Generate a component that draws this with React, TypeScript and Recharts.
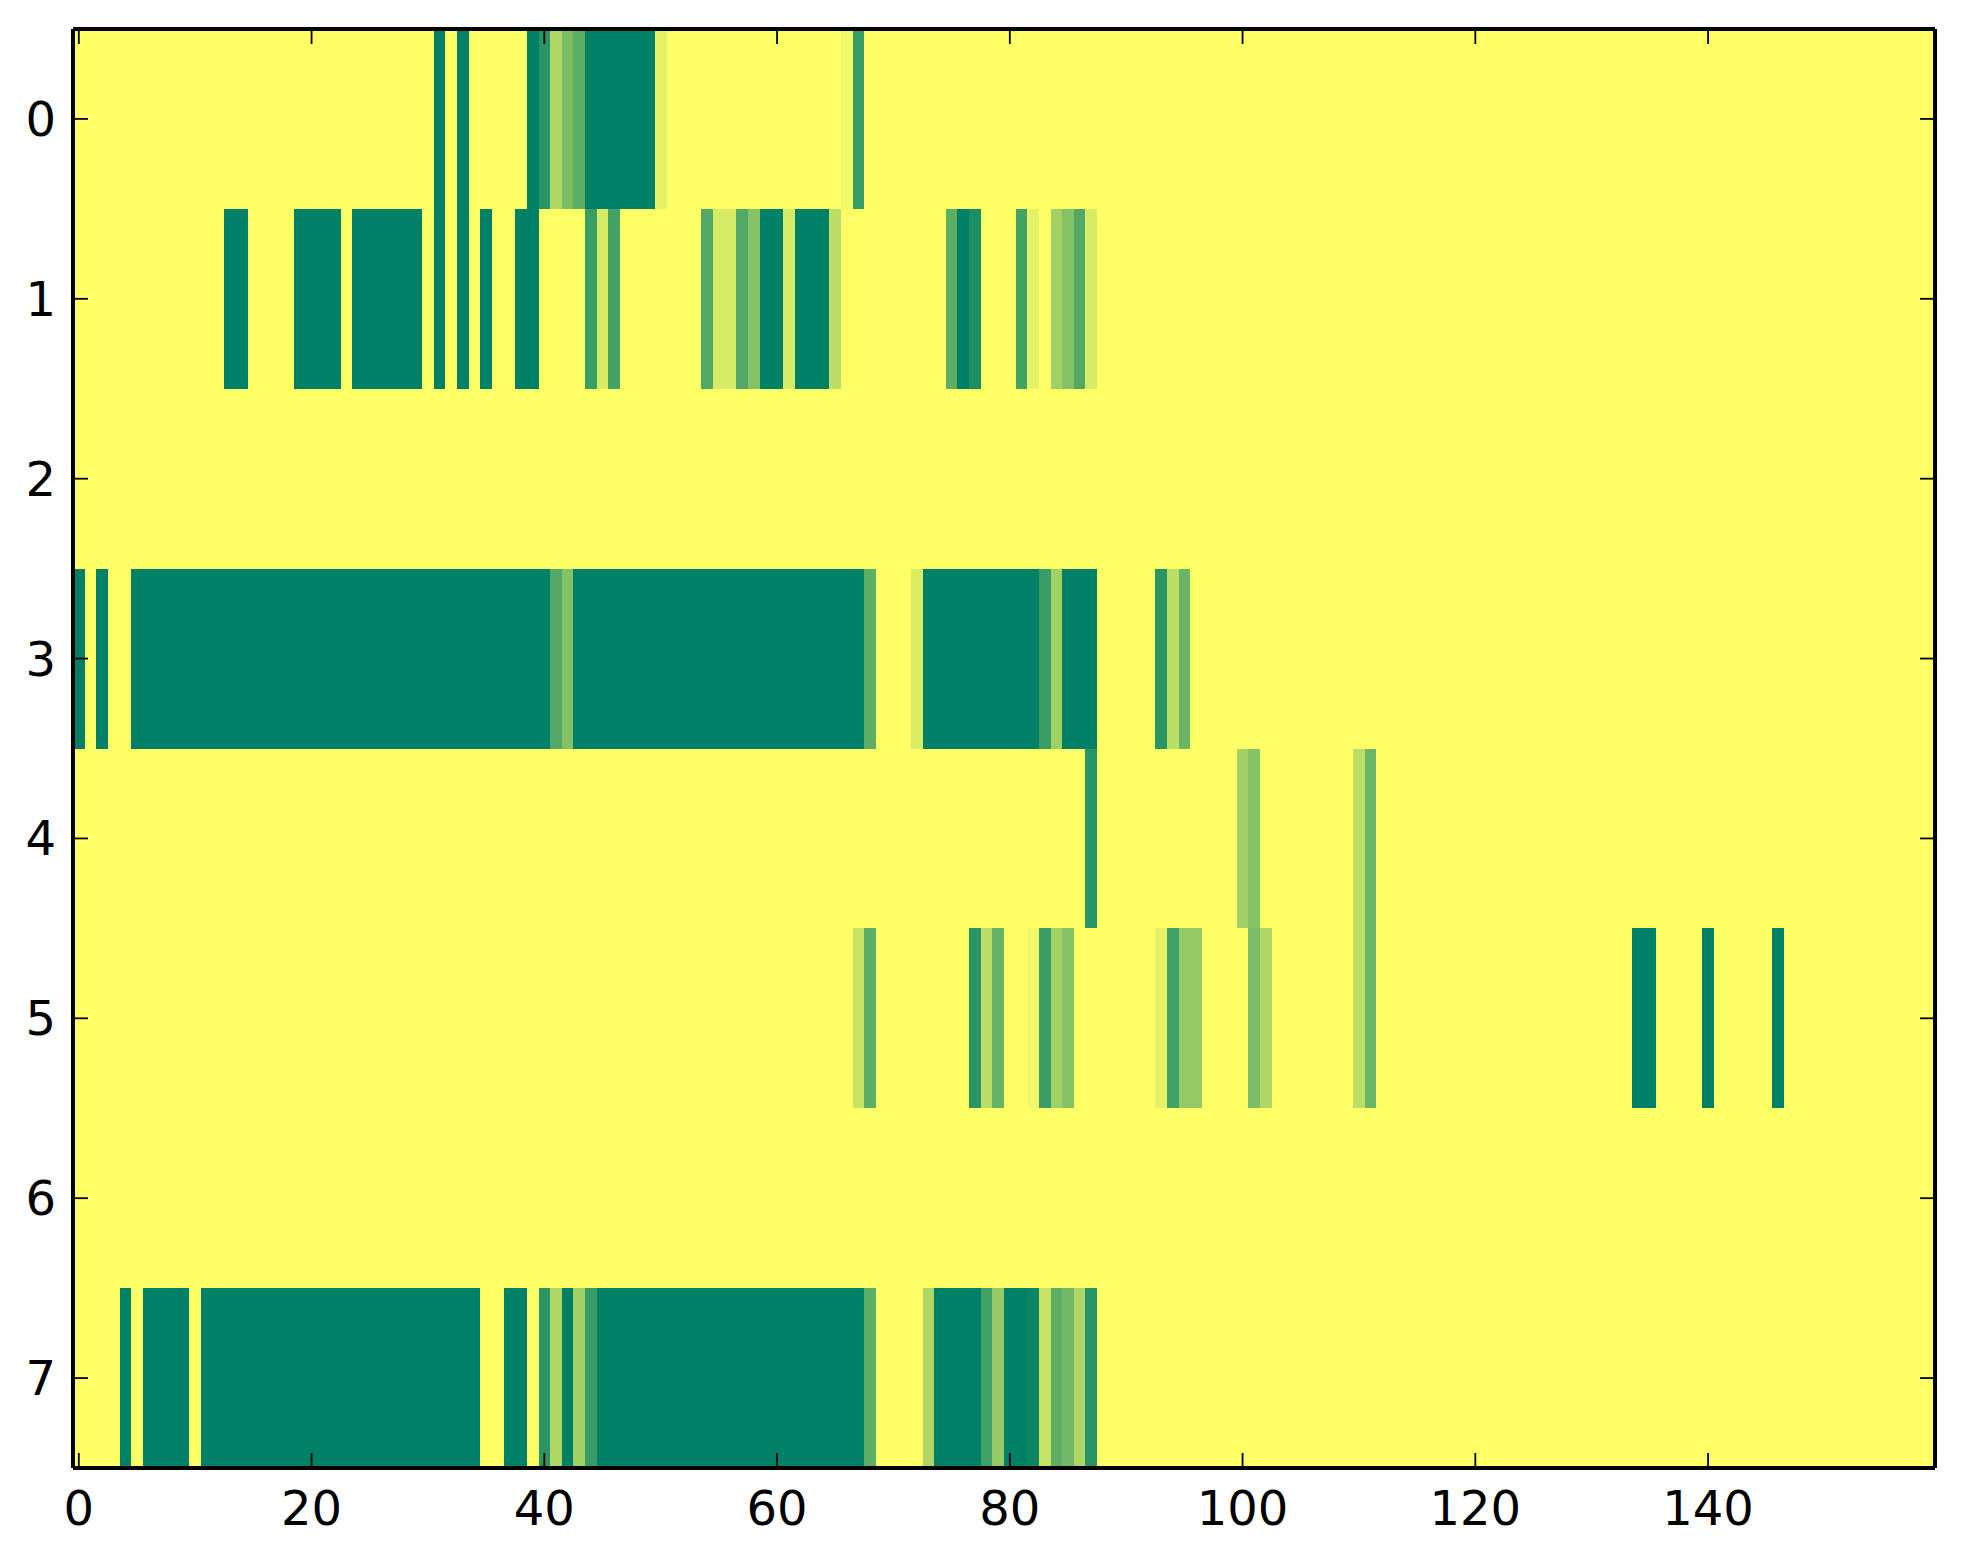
import React from 'react';
import { ComposedChart, XAxis, YAxis, ReferenceArea, Scatter } from 'recharts';

// Heat-map values, sparse per row: [column, value]; every other column is 0.
const row0: [number, number][] = [
  [31, 1], [33, 1], [39, 1], [40, 0.84], [41, 0.31], [42, 0.52], [43, 0.63],
  [44, 1], [45, 1], [46, 1], [47, 1], [48, 1], [49, 1], [50, 0.1], [66, 0.05], [67, 0.78],
];
const row1: [number, number][] = [
  [13, 1], [14, 1], [19, 1], [20, 1], [21, 1], [22, 1], [24, 1], [25, 1], [26, 1], [27, 1],
  [28, 1], [29, 1], [31, 1], [33, 1], [35, 1], [38, 1], [39, 1], [44, 0.77], [45, 0.16],
  [46, 0.73], [54, 0.68], [55, 0.16], [56, 0.16], [57, 0.68], [58, 0.48], [59, 1], [60, 1],
  [61, 0.16], [62, 1], [63, 1], [64, 1], [65, 0.26], [75, 0.63], [76, 1], [77, 0.89],
  [81, 0.73], [82, 0.1], [84, 0.37], [85, 0.48], [86, 0.68], [87, 0.16],
];
const row2: [number, number][] = [];
const row3: [number, number][] = [
  [0, 1], [2, 1], [5, 1], [6, 1], [7, 1], [8, 1], [9, 1], [10, 1], [11, 1], [12, 1], [13, 1],
  [14, 1], [15, 1], [16, 1], [17, 1], [18, 1], [19, 1], [20, 1], [21, 1], [22, 1], [23, 1],
  [24, 1], [25, 1], [26, 1], [27, 1], [28, 1], [29, 1], [30, 1], [31, 1], [32, 1], [33, 1],
  [34, 1], [35, 1], [36, 1], [37, 1], [38, 1], [39, 1], [40, 1], [41, 0.68], [42, 0.48],
  [43, 1], [44, 1], [45, 1], [46, 1], [47, 1], [48, 1], [49, 1], [50, 1], [51, 1], [52, 1],
  [53, 1], [54, 1], [55, 1], [56, 1], [57, 1], [58, 1], [59, 1], [60, 1], [61, 1], [62, 1],
  [63, 1], [64, 1], [65, 1], [66, 1], [67, 1], [68, 0.63], [72, 0.14], [73, 1], [74, 1],
  [75, 1], [76, 1], [77, 1], [78, 1], [79, 1], [80, 1], [81, 1], [82, 1], [83, 0.78],
  [84, 0.37], [85, 1], [86, 1], [87, 1], [93, 0.84], [94, 0.26], [95, 0.58],
];
const row4: [number, number][] = [
  [87, 0.84], [100, 0.37], [101, 0.47], [110, 0.26], [111, 0.58],
];
const row5: [number, number][] = [
  [67, 0.22], [68, 0.63], [77, 0.84], [78, 0.26], [79, 0.6], [82, 0.05], [83, 0.78],
  [84, 0.37], [85, 0.48], [93, 0.1], [94, 0.74], [95, 0.42], [96, 0.42], [101, 0.52],
  [102, 0.31], [110, 0.26], [111, 0.58], [134, 1], [135, 1], [140, 1], [146, 1],
];
const row6: [number, number][] = [];
const row7: [number, number][] = [
  [4, 1], [6, 1], [7, 1], [8, 1], [9, 1], [11, 1], [12, 1], [13, 1], [14, 1], [15, 1],
  [16, 1], [17, 1], [18, 1], [19, 1], [20, 1], [21, 1], [22, 1], [23, 1], [24, 1], [25, 1],
  [26, 1], [27, 1], [28, 1], [29, 1], [30, 1], [31, 1], [32, 1], [33, 1], [34, 1], [37, 1],
  [38, 1], [40, 0.84], [41, 0.31], [42, 1], [43, 0.36], [44, 0.78], [45, 1], [46, 1],
  [47, 1], [48, 1], [49, 1], [50, 1], [51, 1], [52, 1], [53, 1], [54, 1], [55, 1], [56, 1],
  [57, 1], [58, 1], [59, 1], [60, 1], [61, 1], [62, 1], [63, 1], [64, 1], [65, 1], [66, 1],
  [67, 1], [68, 0.63], [73, 0.31], [74, 1], [75, 1], [76, 1], [77, 1], [78, 0.74],
  [79, 0.42], [80, 1], [81, 1], [82, 0.95], [83, 0.22], [84, 0.63], [85, 0.55], [86, 0.31],
  [87, 0.84],
];

const rows = [row0, row1, row2, row3, row4, row5, row6, row7];
const columnCount = 160;
const xTicks = [0, 20, 40, 60, 80, 100, 120, 140];
const yTicks = [0, 1, 2, 3, 4, 5, 6, 7];

// summer_r colormap
const summerR = (v: number) => {
  const r = Math.round(255 * (1 - v));
  const g = Math.round(255 * (1 - v / 2));
  return `rgb(${r},${g},102)`;
};

type Cell = { row: number; col: number; value: number };
const cells: Cell[] = [];
rows.forEach((r, ri) => {
  const m = new Map<number, number>(r);
  for (let c = 0; c < columnCount; c++) {
    cells.push({ row: ri, col: c, value: m.get(c) ?? 0 });
  }
});

const FONT = 'DejaVu Sans';
const FS = 48;
const TICK_LEN = 15;
const TICK_W = 1.8;

const BottomTick = (props: any) => {
  const { x, y, payload } = props;
  return (
    <g>
      <line x1={x} y1={y} x2={x} y2={y - TICK_LEN} stroke="#000" strokeWidth={TICK_W} />
      <text x={x} y={y + 57} textAnchor="middle" fontSize={FS} fontFamily={FONT} fill="#000">
        {payload.value}
      </text>
    </g>
  );
};
const TopTick = (props: any) => {
  const { x, y } = props;
  return <line x1={x} y1={y} x2={x} y2={y + TICK_LEN} stroke="#000" strokeWidth={TICK_W} />;
};
const LeftTick = (props: any) => {
  const { x, y, payload } = props;
  return (
    <g>
      <line x1={x} y1={y} x2={x + TICK_LEN} y2={y} stroke="#000" strokeWidth={TICK_W} />
      <text x={x - 17} y={y + 17} textAnchor="end" fontSize={FS} fontFamily={FONT} fill="#000">
        {payload.value}
      </text>
    </g>
  );
};
const RightTick = (props: any) => {
  const { x, y } = props;
  return <line x1={x} y1={y} x2={x - TICK_LEN} y2={y} stroke="#000" strokeWidth={TICK_W} />;
};

const axisLine = { stroke: '#000', strokeWidth: 4 };
const NoShape = () => <g />;

export default function App() {
  return (
    <div style={{ width: 1947, height: 1548 }}>
      <ComposedChart
        width={1947}
        height={1548}
        data={cells}
        margin={{ top: 0, right: 0, bottom: 0, left: 0 }}
      >
        <XAxis
          xAxisId="b"
          dataKey="col"
          type="number"
          orientation="bottom"
          domain={[-0.5, columnCount - 0.5]}
          allowDataOverflow
          ticks={xTicks}
          interval={0}
          height={88}
          tickSize={0}
          tickMargin={0}
          tickLine={false}
          axisLine={axisLine}
          tick={<BottomTick />}
        />
        <XAxis
          xAxisId="t"
          dataKey="col"
          type="number"
          orientation="top"
          domain={[-0.5, columnCount - 0.5]}
          allowDataOverflow
          ticks={xTicks}
          interval={0}
          height={21}
          tickSize={0}
          tickMargin={0}
          tickLine={false}
          axisLine={axisLine}
          tick={<TopTick />}
        />
        <YAxis
          yAxisId="l"
          dataKey="row"
          type="number"
          orientation="left"
          reversed
          domain={[-0.5, rows.length - 0.5]}
          allowDataOverflow
          ticks={yTicks}
          interval={0}
          width={65}
          tickSize={0}
          tickMargin={0}
          tickLine={false}
          axisLine={axisLine}
          tick={<LeftTick />}
        />
        <YAxis
          yAxisId="r"
          dataKey="row"
          type="number"
          orientation="right"
          reversed
          domain={[-0.5, rows.length - 0.5]}
          allowDataOverflow
          ticks={yTicks}
          interval={0}
          width={20}
          tickSize={0}
          tickMargin={0}
          tickLine={false}
          axisLine={axisLine}
          tick={<RightTick />}
        />
        {cells.map((c) => (
          <ReferenceArea
            key={`${c.row}-${c.col}`}
            xAxisId="b"
            yAxisId="l"
            x1={c.col - 0.5}
            x2={c.col + 0.5}
            y1={c.row - 0.5}
            y2={c.row + 0.5}
            fill={summerR(c.value)}
            fillOpacity={1}
            stroke="none"
            shapeRendering="crispEdges"
            ifOverflow="visible"
          />
        ))}
        <Scatter
          xAxisId="b"
          yAxisId="l"
          dataKey="row"
          data={cells}
          shape={NoShape}
          isAnimationActive={false}
        />
        <Scatter
          xAxisId="t"
          yAxisId="r"
          dataKey="row"
          data={cells}
          shape={NoShape}
          isAnimationActive={false}
        />
      </ComposedChart>
    </div>
  );
}
